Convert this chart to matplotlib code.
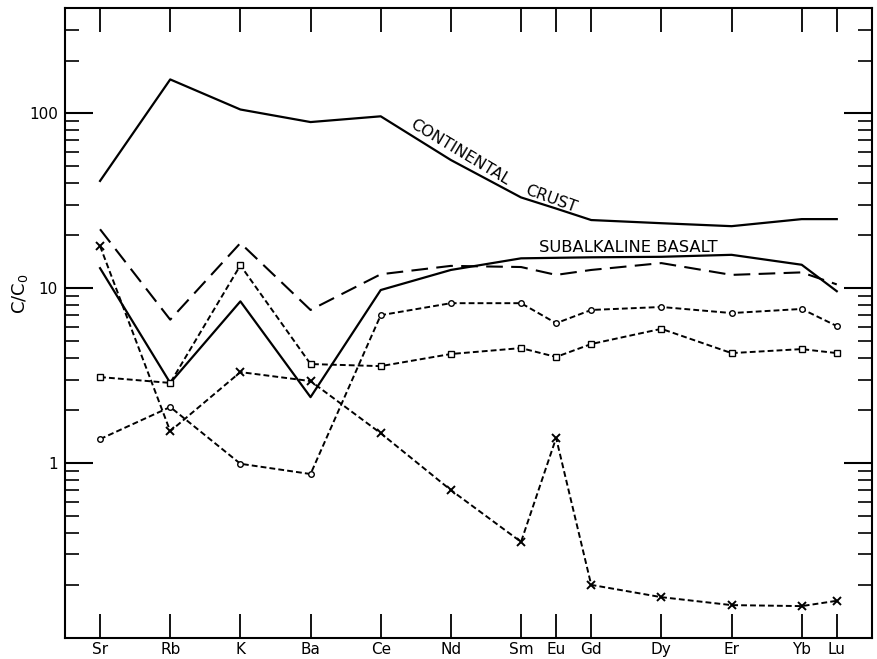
import matplotlib
matplotlib.use("Agg")
import matplotlib.pyplot as plt
from matplotlib.ticker import FixedLocator, LogLocator, NullFormatter

# element positions along the x axis (Eu and Lu sit at half steps)
elements = ["Sr", "Rb", "K", "Ba", "Ce", "Nd", "Sm", "Eu", "Gd", "Dy", "Er", "Yb", "Lu"]
xpos = [0, 1, 2, 3, 4, 5, 6, 6.5, 7, 8, 9, 10, 10.5]

# C/C0 values
continental_crust = [41, 156, 105, 89, 96, 54, 33, 28.5, 24.5, 23.5, 22.6, 24.8, 24.8]
subalkaline_basalt = [13, 2.87, 8.4, 2.38, 9.75, 12.7, 14.8, 14.9, 15.0, 15.1, 15.5, 13.6, 9.6]
dashed_basalt = [21.7, 6.6, 18.1, 7.5, 12.0, 13.4, 13.2, 11.9, 12.7, 13.9, 11.9, 12.3, 10.5]
circles = [1.37, 2.09, 0.99, 0.865, 7.0, 8.2, 8.2, 6.3, 7.5, 7.8, 7.2, 7.6, 6.07]
squares = [3.1, 2.87, 13.5, 3.68, 3.58, 4.2, 4.54, 4.04, 4.79, 5.85, 4.25, 4.48, 4.25]
crosses = [17.4, 1.52, 3.31, 2.94, 1.48, 0.70, 0.354, 1.39, 0.201, 0.171, 0.154, 0.152, 0.163]

fig = plt.figure(figsize=(8.78, 6.59), dpi=100)
ax = fig.add_axes([0.074, 0.032, 0.919, 0.956])

ax.plot(xpos, continental_crust, color="black", lw=1.6)
ax.plot(xpos, subalkaline_basalt, color="black", lw=1.6)
ax.plot(xpos, dashed_basalt, color="black", lw=1.5, linestyle=(0, (8, 4)))

dots = (0, (3, 1.6))
ax.plot(xpos, circles, color="black", lw=1.4, linestyle=dots,
        marker="o", ms=4, mfc="white", mec="black", mew=1)
ax.plot(xpos, squares, color="black", lw=1.4, linestyle=dots,
        marker="s", ms=5, mfc="white", mec="black", mew=1)
ax.plot(xpos, crosses, color="black", lw=1.4, linestyle=dots,
        marker="x", ms=6, mec="black", mew=1.4)

ax.set_yscale("log")
ax.set_ylim(0.1, 400)
ax.set_xlim(-0.5, 11)

ax.xaxis.set_major_locator(FixedLocator(xpos))
ax.set_xticklabels(elements, fontsize=11)
ax.yaxis.set_major_locator(FixedLocator([1, 10, 100]))
ax.set_yticklabels(["1", "10", "100"], fontsize=11)
ax.yaxis.set_minor_locator(LogLocator(base=10, subs=range(2, 10)))
ax.yaxis.set_minor_formatter(NullFormatter())

ax.tick_params(axis="x", which="major", direction="in", top=True, length=17, width=1.3, pad=3)
ax.tick_params(axis="y", which="major", direction="in", right=True, length=20, width=1.5, pad=5)
ax.tick_params(axis="y", which="minor", direction="in", right=True, length=10, width=1.2)
for s in ax.spines.values():
    s.set_linewidth(1.5)

ax.set_ylabel("C/C$_0$", fontsize=13)
ax.yaxis.set_label_coords(-0.043, 0.546)

# curve labels
ax.text(5.13, 60, "CONTINENTAL", rotation=-31, fontsize=11.5,
        ha="center", va="center", rotation_mode="anchor")
ax.text(6.43, 32.5, "CRUST", rotation=-20, fontsize=11.5,
        ha="center", va="center", rotation_mode="anchor")
ax.text(6.26, 17.1, "SUBALKALINE BASALT", fontsize=11.8, ha="left", va="center")

plt.savefig("out.png", dpi=100)
